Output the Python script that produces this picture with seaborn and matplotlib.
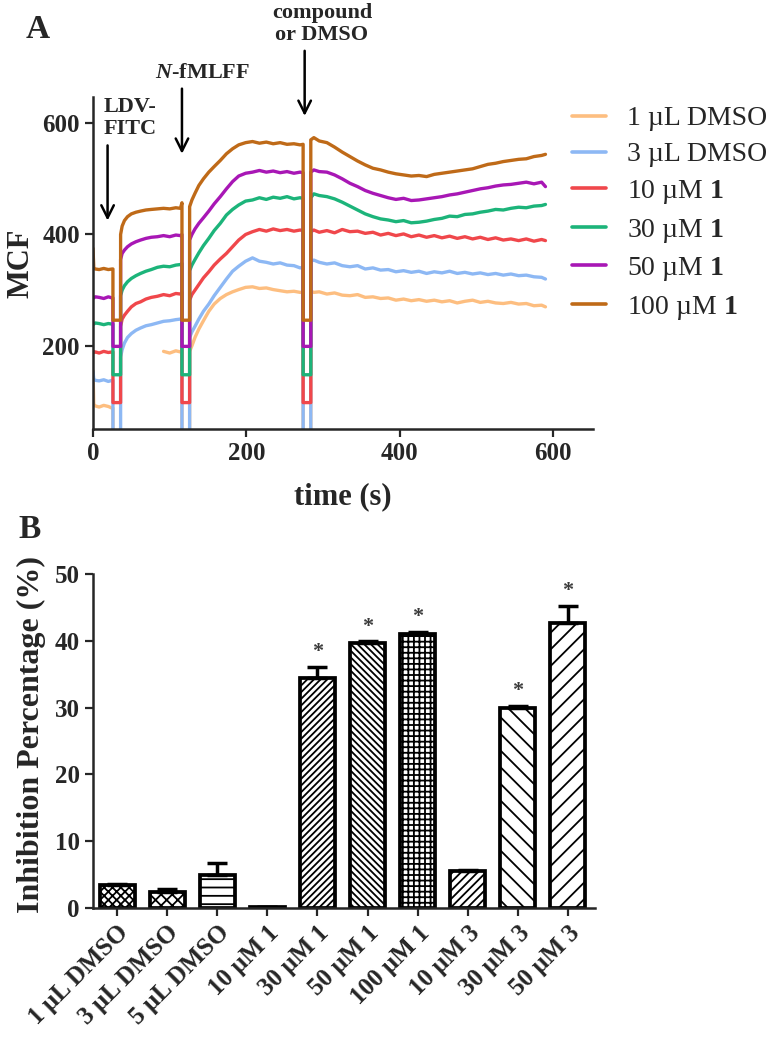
import numpy as np
import pandas as pd
import matplotlib
matplotlib.use('Agg')
import matplotlib.pyplot as plt
from matplotlib.lines import Line2D
import seaborn as sns

sns.set_style('ticks')
plt.rcParams['font.family'] = ['Liberation Serif', 'DejaVu Serif']
plt.rcParams['font.weight'] = 'bold'
plt.rcParams['mathtext.fontset'] = 'custom'
plt.rcParams['mathtext.rm'] = 'Liberation Serif'
plt.rcParams['mathtext.bf'] = 'Liberation Serif:bold'
plt.rcParams['mathtext.it'] = 'Liberation Serif:italic:bold'
plt.rcParams['hatch.linewidth'] = 1.3

# -----------------------------------------------------------------------------
# Panel A data: MCF traces
# -----------------------------------------------------------------------------
t_sec = [0, 1, 3, 8, 14, 20, 25, 26,
         26, 36,
         36, 38, 41, 45, 50, 56, 62, 69, 76, 84, 92, 100, 108, 114, 116,
         116, 126,
         126, 129, 133, 138, 144, 151, 158, 166, 174, 182, 190, 199, 208, 217, 226, 235, 244, 253, 262, 270, 274,
         274, 284,
         284, 288, 295, 305, 315, 325, 335, 345, 355, 365, 375, 385, 395, 405, 415, 425, 435, 445, 455, 465,
         475, 485, 495, 505, 515, 525, 535, 545, 555, 565, 575, 585, 590]

nan = np.nan
dmso_1ul = [155, 95, 92, 90, 93, 91, 88, 88,
            0, nan,
            nan, nan, nan, nan, nan, nan, nan, nan, nan, nan, 190, 187, 191, 189, 190,
            0, 0,
            190, 200, 215, 230, 245, 262, 275, 285, 292, 297, 301, 305, 306, 303, 304, 301, 299, 297, 298, 296, 296,
            0, 0,
            298, 296, 297, 293, 295, 291, 290, 292, 287, 288, 285, 286, 282, 284, 281, 283, 280, 282, 279, 281,
            277, 280, 282, 278, 280, 277, 276, 278, 275, 276, 272, 273, 270]
dmso_3ul = [154, 140, 138, 137, 139, 136, 138, 138,
            0, 0,
            180, 193, 205, 215, 222, 228, 232, 236, 238, 241, 244, 245, 247, 248, 250,
            0, 0,
            215, 225, 235, 248, 262, 275, 290, 305, 320, 334, 343, 352, 358, 352, 350, 347, 349, 345, 344, 340, 341,
            0, 0,
            352, 354, 350, 347, 349, 344, 342, 344, 338, 340, 336, 337, 333, 335, 332, 334, 330, 333, 331, 334,
            330, 332, 329, 331, 328, 330, 327, 329, 326, 327, 324, 323, 320]
c1_10 = [190, 188, 189, 187, 190, 188, 189, 189,
         98, 98,
         235, 248, 255, 262, 270, 276, 279, 284, 287, 289, 292, 290, 294, 293, 296,
         98, 98,
         282, 292, 300, 310, 322, 333, 345, 356, 366, 378, 390, 400, 405, 409, 406, 410, 407, 409, 406, 408, 407,
         98, 98,
         405, 408, 404, 407, 403, 409, 405, 406, 402, 404, 399, 402, 398, 401, 396, 399, 395, 398, 394, 397,
         393, 396, 392, 395, 391, 394, 390, 392, 389, 392, 388, 391, 389]
c1_30 = [240, 239, 241, 240, 238, 240, 239, 239,
         148, 148,
         290, 300, 308, 315, 321, 326, 330, 334, 337, 341, 343, 342, 345, 346, 348,
         148, 148,
         335, 345, 355, 367, 380, 393, 407, 420, 435, 445, 453, 460, 462, 466, 463, 467, 465, 468, 464, 466, 465,
         148, 148,
         466, 473, 470, 468, 464, 458, 451, 444, 437, 432, 428, 426, 423, 425, 421, 422, 424, 427, 429, 433,
         432, 436, 437, 440, 442, 445, 444, 447, 449, 448, 451, 452, 454]
c1_50 = [287, 286, 288, 287, 285, 288, 286, 286,
         199, 199,
         355, 366, 372, 378, 383, 387, 390, 393, 395, 396, 398, 396, 399, 398, 400,
         199, 199,
         390, 400, 410, 420, 430, 442, 455, 468, 482, 495, 505, 510, 512, 515, 512, 514, 511, 513, 510, 512, 511,
         199, 199,
         512, 516, 513, 512, 507, 500, 492, 486, 479, 474, 470, 466, 463, 465, 461, 462, 464, 466, 468, 471,
         473, 476, 479, 482, 484, 487, 489, 490, 492, 494, 491, 494, 486]
c1_100 = [375, 340, 338, 337, 339, 337, 338, 338,
          246, 246,
          400, 415, 425, 432, 437, 440, 442, 444, 445, 446, 447, 446, 448, 447, 457,
          246, 246,
          450, 462, 474, 488, 500, 512, 522, 533, 545, 554, 561, 565, 567, 564, 566, 563, 565, 562, 563, 561, 562,
          246, 246,
          570, 574, 568, 565, 557, 548, 540, 532, 525, 519, 516, 512, 509, 507, 505, 506, 504, 508, 510, 512,
          514, 516, 518, 522, 526, 528, 531, 533, 535, 536, 540, 542, 544]

trace_names = ['1 µL DMSO', '3 µL DMSO', r'10 µM $\mathbf{1}$', r'30 µM $\mathbf{1}$',
               r'50 µM $\mathbf{1}$', r'100 µM $\mathbf{1}$']
trace_colors = ['#FDBE80', '#8DB8F4', '#F0474B', '#1CB47A', '#A817B5', '#BF6A18']
traces = [dmso_1ul, dmso_3ul, c1_10, c1_30, c1_50, c1_100]

# injection events: time, arrow tip, arrow tail (MCF units)
event_t = [19, 116, 276]
event_tip = [425, 545, 613]
event_tail = [560, 662, 730]

# -----------------------------------------------------------------------------
# Panel B data: inhibition percentage
# -----------------------------------------------------------------------------
bar_labels = ['1 µL DMSO', '3 µL DMSO', '5 µL DMSO', '10 µM 1', '30 µM 1',
              '50 µM 1', '100 µM 1', '10 µM 3', '30 µM 3', '50 µM 3']
bar_means = [3.4, 2.4, 4.9, 0.2, 34.5, 39.7, 41.0, 5.6, 29.9, 42.6]
bar_err = [0.2, 0.5, 1.9, 0.0, 1.6, 0.2, 0.3, 0.1, 0.4, 2.6]
bar_sig = [False, False, False, False, True, True, True, False, True, True]
bar_hatches = ['xxxx', 'xxx', '--', '', '/////', '\\\\\\\\\\', '+++', '////', '\\\\', '//']

# -----------------------------------------------------------------------------
fig = plt.figure(figsize=(7.68, 10.38), dpi=100)

# ---------------- Panel A ----------------
axA = fig.add_axes([93 / 768, 1 - 429.3 / 1038, 500 / 768, (429.3 - 97) / 1038])

frames = []
for name, vals in zip(trace_names, traces):
    v = np.array(vals, dtype=float)
    piece = np.cumsum(np.isnan(v))
    frames.append(pd.DataFrame({'t': t_sec, 'mcf': v, 'trace': name, 'piece': piece}))
df = pd.concat(frames).dropna()

sns.lineplot(data=df, x='t', y='mcf', hue='trace', hue_order=trace_names,
             palette=dict(zip(trace_names, trace_colors)), units='piece',
             estimator=None, sort=False, lw=2.4, legend=False, ax=axA)

axA.set_xlim(0, 652)
axA.set_ylim(50, 647)
axA.set_xticks([0, 200, 400, 600])
axA.set_yticks([200, 400, 600])
axA.set_xlabel('time (s)', fontsize=22, fontweight='bold', labelpad=12)
axA.set_ylabel('MCF', fontsize=22, fontweight='bold', labelpad=5)
axA.tick_params(labelsize=18, width=1.6, length=6)
for lab in axA.get_xticklabels() + axA.get_yticklabels():
    lab.set_fontweight('bold')
sns.despine(ax=axA)
for s in ['left', 'bottom']:
    axA.spines[s].set_linewidth(1.8)

arrow_kw = dict(arrowstyle='->, head_length=0.9, head_width=0.45', lw=1.8, color='black',
                shrinkA=0, shrinkB=0)
for t, tip, tail in zip(event_t, event_tip, event_tail):
    axA.annotate('', xy=(t, tip), xytext=(t, tail), arrowprops=arrow_kw, annotation_clip=False)

fig.text(130 / 768, 1 - 118 / 1038, 'LDV-\nFITC', ha='center', va='center', fontsize=16,
         fontweight='bold', linespacing=1.1)
fig.text(203 / 768, 1 - 73 / 1038, r'$\mathit{N}$-fMLFF', ha='center', va='center',
         fontsize=16, fontweight='bold')
fig.text(322 / 768, 1 - 24 / 1038, 'compound\nor DMSO', ha='center', va='center', fontsize=16,
         fontweight='bold', linespacing=1.15)
fig.text(38 / 768, 1 - 29 / 1038, 'A', ha='center', va='center', fontsize=24, fontweight='bold')

handles = [Line2D([], [], color=c, lw=2.6) for c in trace_colors]
fig.legend(handles, trace_names, loc='upper left', bbox_to_anchor=(572 / 768, 1 - 106 / 1038),
           frameon=False, prop={'family': 'Liberation Serif', 'weight': 'normal', 'size': 20},
           handlelength=1.22, handletextpad=0.75, labelspacing=0.38, borderpad=0, borderaxespad=0)

# ---------------- Panel B ----------------
axB = fig.add_axes([93 / 768, 1 - 908 / 1038, (595 - 93) / 768, (908 - 574) / 1038])
sns.barplot(x=bar_labels, y=bar_means, color='white', edgecolor='black', linewidth=2.7,
            width=0.7, errorbar=None, saturation=1, ax=axB)
for patch, h in zip(axB.patches, bar_hatches):
    patch.set_hatch(h)

xpos = np.arange(len(bar_means))
axB.errorbar(xpos, bar_means, yerr=[np.zeros(len(bar_err)), bar_err], fmt='none',
             ecolor='black', elinewidth=2.5, capsize=7.5, capthick=2.5, zorder=1)
for x, m, e, s in zip(xpos, bar_means, bar_err, bar_sig):
    if s:
        axB.text(x, m + e + 2.2, '*', ha='center', va='center', fontsize=16, color='#3a3a3a')

axB.set_xlim(-0.48, 9.54)
axB.set_ylim(0, 50)
axB.set_yticks(range(0, 51, 10))
axB.set_ylabel('Inhibition Percentage (%)', fontsize=23, fontweight='bold', labelpad=6)
axB.yaxis.label.set_y(0.52)
axB.tick_params(labelsize=18, width=1.6, length=6)
axB.set_xticks(xpos)
axB.set_xticklabels(bar_labels, rotation=45, ha='right', rotation_mode='anchor', fontweight='bold')
for lab in axB.get_yticklabels():
    lab.set_fontweight('bold')
sns.despine(ax=axB)
for s in ['left', 'bottom']:
    axB.spines[s].set_linewidth(1.8)

fig.text(30 / 768, 1 - 530 / 1038, 'B', ha='center', va='center', fontsize=24, fontweight='bold')

fig.savefig('out.png', dpi=100)
